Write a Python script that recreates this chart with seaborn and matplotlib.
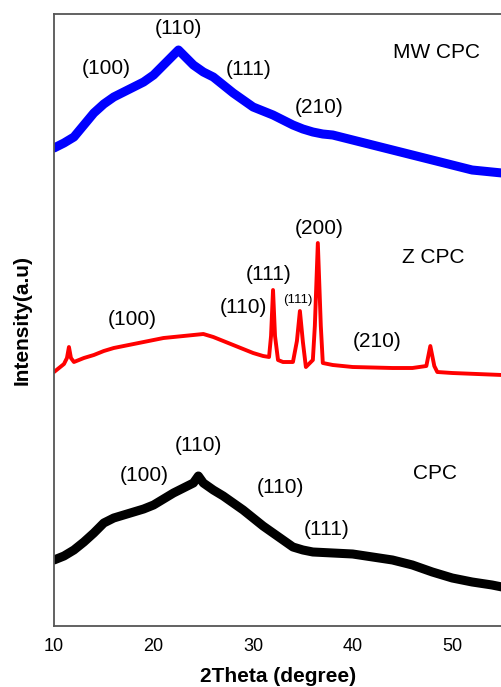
import numpy as np
import pandas as pd
import matplotlib
matplotlib.use("Agg")
import matplotlib.pyplot as plt
import seaborn as sns

sns.set_style("white")
plt.rcParams['font.family'] = ['Liberation Sans', 'DejaVu Sans']

# MW CPC (blue), values in a.u.
mw_x = [10, 11, 12, 13, 14, 15, 16, 17, 18, 19, 20, 21, 22, 22.5, 23, 24, 25,
        26, 27, 28, 29, 30, 31, 32, 33, 34, 35, 36, 37, 38, 40, 42, 44, 46,
        48, 50, 52, 54, 55]
mw_y = [478, 483, 489, 501, 513, 522, 529, 534, 539, 544, 551, 561, 571, 576,
        571, 561, 554, 549, 541, 533, 526, 519, 515, 511, 506, 501, 497, 494,
        492, 491, 486, 481, 476, 471, 466, 461, 456, 454, 453]

# Z CPC (red)
z_x = [10, 11.0, 11.3, 11.5, 11.7, 12, 13, 14, 15, 16, 17, 18, 19, 20, 21, 22,
       23, 24, 25, 26, 27, 28, 29, 30, 31, 31.6, 31.8, 32.0, 32.2, 32.5, 33,
       34, 34.4, 34.7, 35.0, 35.3, 36, 36.2, 36.5, 36.8, 37, 38, 40, 44, 46,
       47.4, 47.8, 48.2, 48.5, 50, 55]
z_y = [254, 262, 268, 279, 268, 264, 268, 271, 275, 278, 280, 282, 284, 286,
       288, 289, 290, 291, 292, 289, 285, 281, 277, 273, 270, 269, 290, 336,
       290, 266, 264, 264, 285, 315, 284, 259, 266, 300, 383, 300, 263, 261,
       259, 258, 258, 260, 280, 260, 254, 253, 251]

# CPC (black)
c_x = [10, 11, 12, 13, 14, 15, 16, 17, 18, 19, 20, 21, 22, 23, 24, 24.5, 25,
       26, 27, 28, 29, 30, 31, 32, 33, 34, 35, 36, 38, 40, 42, 44, 46, 48, 50,
       52, 54, 55]
c_y = [66, 70, 76, 84, 93, 103, 108, 111, 114, 117, 121, 127, 133, 138, 143,
       150, 143, 136, 130, 123, 116, 108, 100, 93, 86, 79, 76, 74, 73, 72, 69,
       66, 61, 54, 48, 44, 41, 39]

# peak labels: (text, x, y, fontsize)
mw_labels = [("(110)", 22.5, 598, 15), ("(100)", 15.2, 558, 15),
             ("(111)", 29.5, 557, 15), ("(210)", 36.6, 519, 15),
             ("MW CPC", 48.4, 574, 15)]
z_labels = [("(200)", 36.6, 398, 15), ("Z CPC", 48.1, 369, 15),
            ("(111)", 31.6, 352, 15), ("(111)", 34.5, 326, 9.5),
            ("(110)", 29.0, 319, 15), ("(100)", 17.9, 307, 15),
            ("(210)", 42.5, 285, 15)]
c_labels = [("(110)", 24.5, 181, 15), ("(100)", 19.1, 150, 15),
            ("(110)", 32.7, 138, 15), ("(111)", 37.4, 96, 15),
            ("CPC", 48.3, 152, 15)]

fig = plt.figure(figsize=(5.02, 6.87), dpi=100)
ax = fig.add_axes([0.1076, 0.0888, 0.8924, 0.8908])

sns.lineplot(x=mw_x, y=mw_y, color="#0000ff", linewidth=6.5, ax=ax)
sns.lineplot(x=z_x, y=z_y, color="#ff0000", linewidth=2.8, ax=ax)
sns.lineplot(x=c_x, y=c_y, color="black", linewidth=6.5, ax=ax)

for labels in (mw_labels, z_labels, c_labels):
    for txt, lx, ly, fs in labels:
        ax.text(lx, ly, txt, ha="center", va="center", fontsize=fs, color="black")

ax.set_xlim(10, 55)
ax.set_ylim(0, 612)
ax.set_xticks([10, 20, 30, 40, 50])
ax.set_yticks([])
ax.tick_params(axis="x", direction="in", length=6, width=1.2, color="#444444",
               labelsize=13, labelcolor="black", pad=9)
for side in ("left", "bottom", "top"):
    ax.spines[side].set_color("#555555")
    ax.spines[side].set_linewidth(1.3)
ax.spines["right"].set_visible(False)

ax.set_xlabel("2Theta (degree)", fontsize=15, fontweight="bold", labelpad=8,
              color="black")
ax.set_ylabel("Intensity(a.u)", fontsize=15, fontweight="bold", labelpad=16,
              color="black")

fig.savefig("out.png", dpi=100)
